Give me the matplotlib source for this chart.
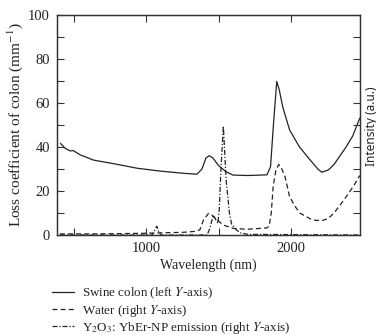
import matplotlib
matplotlib.use("Agg")
import matplotlib.pyplot as plt

plt.rcParams['font.family'] = ['Liberation Serif', 'DejaVu Serif']
plt.rcParams['mathtext.fontset'] = 'stix'

# Swine colon (left axis)
colon_wl = [405, 436, 470, 494, 540, 633, 795, 936, 1097, 1258, 1350, 1384, 1413, 1435,
            1460, 1500, 1550, 1600, 1700, 1835, 1860, 1880, 1903, 1920, 1945, 1992,
            2060, 2130, 2190, 2215, 2260, 2300, 2384, 2430, 2478]
colon_val = [41.5, 39.4, 38.2, 38.3, 36.4, 34.0, 32.1, 30.3, 29.0, 28.0, 27.6, 29.9, 35.0, 36.0,
             35.0, 31.5, 28.8, 27.2, 27.0, 27.3, 31.0, 50.0, 69.7, 66.0, 58.0, 47.7,
             40.0, 34.4, 29.8, 28.5, 29.5, 32.0, 40.0, 45.0, 53.0]

# Water (right axis)
water_wl = [400, 600, 800, 1000, 1100, 1250, 1330, 1370, 1395, 1430, 1455, 1487, 1533, 1602,
            1695, 1833, 1850, 1865, 1878, 1897, 1917, 1935, 1960, 1992, 2030, 2062, 2150,
            2215, 2260, 2300, 2370, 2440, 2478]
water_val = [0.5, 0.5, 0.6, 0.8, 1.0, 1.2, 1.6, 2.3, 6.8, 9.8, 9.0, 7.0, 4.5, 3.0,
             2.6, 3.2, 4.0, 10.0, 22.0, 29.5, 32.0, 30.5, 26.5, 17.4, 13.0, 10.0, 6.8,
             6.5, 7.5, 10.0, 16.0, 22.7, 27.0]

# Y2O3:YbEr-NP emission (right axis)
emis_wl = [400, 1040, 1060, 1072, 1085, 1100, 1420, 1440, 1462, 1480, 1495, 1505, 1516, 1533,
           1552, 1575, 1590, 1620, 1650, 1700, 2478]
emis_val = [0, 0, 2.5, 4.0, 1.5, 0, 0, 3.0, 9.0, 7.0, 5.3, 12.0, 29.5, 49.5,
            25.0, 10.0, 5.0, 2.5, 1.0, 0.3, 0]

xticks = [1000, 2000]
yticks = [0, 20, 40, 60, 80, 100]

fig = plt.figure(figsize=(3.76, 3.35), dpi=100)
ax = fig.add_axes([57/376, 1-235/335, (360-57)/376, (235-14.7)/335])
ax2 = ax.twinx()

l1, = ax.plot(colon_wl, colon_val, color='#222222', lw=0.9, label='Swine colon (left $Y$-axis)')
l2, = ax2.plot(water_wl, water_val, color='#222222', lw=0.9, dashes=(4, 2.5),
               label='Water (right $Y$-axis)')
l3, = ax2.plot(emis_wl, emis_val, color='#222222', lw=0.9, dashes=(4, 1.5, 1, 1.5),
               label='Y$_2$O$_3$: YbEr-NP emission (right $Y$-axis)')

ax.set_xlim(380, 2480)
ax.set_ylim(0, 100)
ax2.set_ylim(0, 100)
ax.set_xticks(xticks)
ax.set_xticks([500, 1500], minor=True)
ax.set_yticks(yticks)
ax.set_yticks([10, 30, 50, 70, 90], minor=True)
ax2.set_yticks(range(0, 101, 10))
ax2.set_yticklabels([])

ax.tick_params(axis='both', which='both', direction='in', labelsize=10.5, pad=5,
               top=True, color='#333333', labelcolor='#222222')
ax.tick_params(which='major', length=5, width=0.8)
ax.tick_params(which='minor', length=5, width=0.8)
ax2.tick_params(axis='y', direction='in', length=5, width=0.8, color='#333333')
for a in (ax, ax2):
    for s in a.spines.values():
        s.set_linewidth(0.9)
        s.set_color('#333333')

ax.set_xlabel('Wavelength (nm)', fontsize=10, labelpad=2.5, color='#222222')
ax.set_ylabel('Loss coefficient of colon (mm$^{-1}$)', fontsize=11, labelpad=2.5, color='#222222')
fig.text(371/376, 1-126/335, 'Intensity (a.u.)', rotation=90, ha='center', va='center',
         fontsize=8.5, color='#222222', family=['Noto Sans', 'DejaVu Sans'])

fig.legend(handles=[l1, l2, l3], loc='upper left', bbox_to_anchor=(52/376, 1-286/335),
           frameon=False, fontsize=9.4, handlelength=1.7, handletextpad=0.6,
           labelspacing=0.1, borderpad=0, borderaxespad=0, labelcolor='#222222')

fig.savefig('out.png', dpi=100)
